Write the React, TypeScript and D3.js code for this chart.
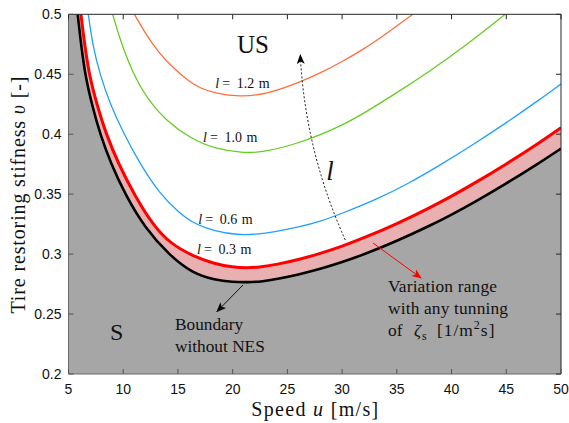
import React from "react";
import * as d3 from "d3";

const xTicks = [5, 10, 15, 20, 25, 30, 35, 40, 45, 50];
const yTicks = [0.2, 0.25, 0.3, 0.35, 0.4, 0.45, 0.5];

const blackCurve: [number, number][] = [
  [5.84, 0.5], [6.10, 0.4786], [6.51, 0.4496], [7.15, 0.4244], [7.88, 0.4002], [8.89, 0.3752],
  [10.17, 0.3499], [12.0, 0.3215], [14.28, 0.2985], [16.3, 0.2842], [18.4, 0.2783], [20.0, 0.2768],
  [21.3, 0.2765], [22.8, 0.2772], [24, 0.2792], [26, 0.2829], [28, 0.2876], [30, 0.2933], [32, 0.2997],
  [35, 0.3109], [38, 0.3236], [40, 0.3329], [42, 0.3428], [45, 0.3588], [48, 0.3759], [50, 0.388],
];
const redCurve: [number, number][] = [
  [6.14, 0.5], [6.42, 0.4786], [6.88, 0.4496], [7.61, 0.4244], [8.43, 0.4002], [9.57, 0.3752],
  [10.99, 0.3499], [12.73, 0.3240], [14.28, 0.309], [16.3, 0.2985], [18.4, 0.2917], [20.0, 0.2891],
  [21.3, 0.2884], [22.6, 0.2892], [24, 0.2913], [26, 0.2953], [28, 0.3005], [30, 0.3065], [32, 0.3135],
  [35, 0.3252], [38, 0.3386], [40, 0.3483], [42, 0.3586], [45, 0.375], [48, 0.3927], [50, 0.4055],
];
const blueCurve: [number, number][] = [
  [6.81, 0.5], [7.2, 0.4744], [7.88, 0.4496], [8.8, 0.4252], [10.08, 0.3999], [11.54, 0.3752],
  [13.37, 0.3499], [15.02, 0.3352], [16.3, 0.326], [18.4, 0.3189], [20.5, 0.316], [22, 0.3164],
  [24, 0.3188], [26, 0.3225], [28, 0.3272], [30, 0.334], [33, 0.345], [36, 0.3585], [39, 0.3745],
  [42, 0.3915], [45, 0.4095], [48, 0.4285], [50, 0.4419],
];
const greenCurve: [number, number][] = [
  [9.04, 0.5], [9.71, 0.4786], [10.93, 0.4496], [12.27, 0.4285], [13.85, 0.4119], [16.11, 0.3966],
  [18.4, 0.3877], [21.1, 0.3841], [23, 0.3852], [26, 0.3925], [28, 0.3995], [30, 0.4075], [32, 0.4175],
  [35, 0.4345], [38, 0.4525], [41, 0.472], [44.9, 0.5],
];
const orangeCurve: [number, number][] = [
  [11.02, 0.5], [12.0, 0.4844], [13.19, 0.4686], [14.47, 0.4561], [16.11, 0.4431], [17.03, 0.4385],
  [18.4, 0.434], [20.7, 0.4313], [23, 0.433], [26.2, 0.4435], [28, 0.451], [30, 0.4605], [32, 0.471],
  [34, 0.4835], [36.46, 0.5],
];
const curveLabels = ["1.2", "1.0", "0.6", "0.3"];
const curveLabelPos: [number, number][] = [[18.4, 0.4385], [17.3, 0.3935], [16.85, 0.3251], [16.75, 0.2999]];
// dashed "l" arrow: start, control, end (data coords)
const lArrow: [number, number][] = [[30.29, 0.3118], [26.61, 0.3864], [26.18, 0.4661]];

const W = 569, H = 423;
const m = { left: 68.5, right: 561, top: 14.3, bottom: 374 };

export default function App() {
  const x = d3.scaleLinear().domain([5, 50]).range([m.left, m.right]);
  const y = d3.scaleLinear().domain([0.2, 0.5]).range([m.bottom, m.top]);
  const line = d3.line<[number, number]>().x(d => x(d[0])).y(d => y(d[1])).curve(d3.curveBasis);
  const under = (c: [number, number][]) =>
    line(c)! + `L${x(50)},${y(0.2)}L${x(5)},${y(0.2)}L${x(5)},${y(0.5)}Z`;
  const font = "'Liberation Serif', 'DejaVu Serif', serif";
  const sans = "'Liberation Sans', Arial, sans-serif";
  const axisColor = "#262626";
  const dashPath = `M${x(lArrow[0][0])},${y(lArrow[0][1])} Q${x(lArrow[1][0])},${y(lArrow[1][1])} ${x(lArrow[2][0])},${y(lArrow[2][1])}`;
  return (
    <svg width={W} height={H} style={{ position: "absolute", left: 0, top: 0 }}>
      <defs>
        <clipPath id="clip"><rect x={m.left} y={m.top} width={m.right - m.left} height={m.bottom - m.top} /></clipPath>
        <marker id="ahBlack" viewBox="0 0 10 10" refX="9" refY="5" markerWidth="10" markerHeight="10" markerUnits="userSpaceOnUse" orient="auto">
          <path d="M0,1 L10,5 L0,9 L2.5,5 Z" fill="black" />
        </marker>
        <marker id="ahRed" viewBox="0 0 10 10" refX="9" refY="5" markerWidth="10" markerHeight="10" markerUnits="userSpaceOnUse" orient="auto">
          <path d="M0,1 L10,5 L0,9 L2.5,5 Z" fill="red" />
        </marker>
      </defs>
      <rect x={0} y={0} width={W} height={H} fill="white" />
      <g clipPath="url(#clip)">
        <path d={under(redCurve)} fill="#e8b0b0" />
        <path d={under(blackCurve)} fill="#a6a6a6" />
        <path d={line(orangeCurve)!} fill="none" stroke="#ff6f3c" strokeWidth={1.3} />
        <path d={line(greenCurve)!} fill="none" stroke="#66cc22" strokeWidth={1.3} />
        <path d={line(blueCurve)!} fill="none" stroke="#1fa0ff" strokeWidth={1.3} />
        <path d={line(redCurve)!} fill="none" stroke="#ff0000" strokeWidth={3} />
        <path d={line(blackCurve)!} fill="none" stroke="#000" strokeWidth={2.6} />
      </g>
      {/* axes box */}
      <line x1={m.left} x2={m.right} y1={m.top} y2={m.top} stroke={axisColor} />
      <line x1={m.right} x2={m.right} y1={m.top} y2={m.bottom} stroke={axisColor} />
      <line x1={m.left} x2={m.right} y1={m.bottom} y2={m.bottom} stroke="#6a6a6a" />
      <line x1={m.left} x2={m.left} y1={m.top} y2={m.bottom} stroke="#6a6a6a" />
      {xTicks.map(t => (
        <g key={"x" + t}>
          <line x1={x(t)} x2={x(t)} y1={m.bottom} y2={m.bottom - 5} stroke="#555" />
          <line x1={x(t)} x2={x(t)} y1={m.top} y2={m.top + 5} stroke={axisColor} />
          <text x={x(t)} y={m.bottom + 20} textAnchor="middle" fontFamily={sans} fontSize={14} fill="#111">{t}</text>
        </g>
      ))}
      {yTicks.map(t => (
        <g key={"y" + t}>
          <line x1={m.left} x2={m.left + 5} y1={y(t)} y2={y(t)} stroke="#555" />
          <line x1={m.right} x2={m.right - 5} y1={y(t)} y2={y(t)} stroke={axisColor} />
          <text x={m.left - 7} y={y(t) + 5} textAnchor="end" fontFamily={sans} fontSize={14} fill="#111">{String(t)}</text>
        </g>
      ))}
      <text x={(m.left + m.right) / 2} y={416} textAnchor="middle" fontFamily={font} fontSize={20} fill="#111" textLength={127} lengthAdjust="spacing">
        Speed <tspan fontStyle="italic">u</tspan> [m/s]
      </text>
      <text transform={`translate(25,${195}) rotate(-90)`} textAnchor="middle" fontFamily={font} fontSize={20} fill="#111" textLength={237} lengthAdjust="spacing">
        Tire restoring stifness <tspan fontStyle="italic">υ</tspan> [-]
      </text>
      <text x={237} y={53} fontFamily={font} fontSize={25} fill="#111">US</text>
      <text x={110} y={340} fontFamily={font} fontSize={24} fill="#111">S</text>
      {curveLabels.map((lab, i) => {
        const lx = x(curveLabelPos[i][0]);
        const ly = y(curveLabelPos[i][1]);
        return (
          <g key={lab} fontFamily={font} fontSize={14} fill="#111">
            <text x={lx} y={ly} fontStyle="italic">l</text>
            <text x={lx + 7} y={ly}>=</text>
            <text x={lx + 21.5} y={ly}>{lab}</text>
            <text x={lx + 43.5} y={ly}>m</text>
          </g>
        );
      })}
      <text x={330} y={180} textAnchor="middle" fontFamily={font} fontSize={27} fontStyle="italic" fill="#111">l</text>
      <path d={dashPath} fill="none" stroke="#111" strokeWidth={1} strokeDasharray="2,2" markerEnd="url(#ahBlack)" />
      <line x1={243} y1={285} x2={217} y2={311.5} stroke="#111" strokeWidth={1} markerEnd="url(#ahBlack)" />
      <line x1={373} y1={243} x2={421} y2={278} stroke="red" strokeWidth={1} markerEnd="url(#ahRed)" />
      <text fontFamily={font} fontSize={17.3} fill="#111">
        <tspan x={175} y={330}>Boundary</tspan>
        <tspan x={175} y={352}>without NES</tspan>
      </text>
      <g fontFamily={font} fontSize={17.4} fill="#111">
        <text x={388} y={292} textLength={109} lengthAdjust="spacing">Variation range</text>
        <text x={388} y={313.5} textLength={120} lengthAdjust="spacing">with any tunning</text>
        <text x={388} y={336}>of</text>
        <text x={414} y={336} fontStyle="italic">ζ</text>
        <text x={422} y={339.5} fontSize={12}>s</text>
        <text x={437} y={336} letterSpacing={1}>[1/m<tspan fontSize={12} dy={-7}>2</tspan><tspan dy={7}>s]</tspan></text>
      </g>
    </svg>
  );
}
